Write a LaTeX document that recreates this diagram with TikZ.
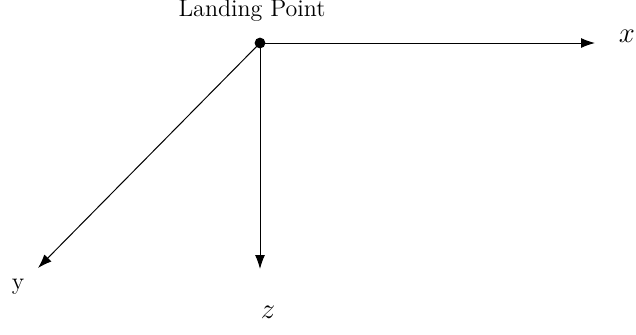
\documentclass[tikz,border=0pt]{standalone}
\usetikzlibrary{arrows.meta}
\begin{document}
\begin{tikzpicture}[x=0.5pt,y=-0.5pt,
  axis/.style={-{Latex[length=7pt,width=5pt]},line width=0.5pt}]
\useasboundingbox (0,0) rectangle (636,334);
\coordinate (o) at (260,43);
\fill (o) circle (2.7pt);
\coordinate (xe) at (595,43);
\coordinate (ye) at (38,268);
\coordinate (ze) at (260,269);
\draw[axis] (o) -- (xe);
\draw[axis] (o) -- (ye);
\draw[axis] (o) -- (ze);
\node (lp) at (252,11) {\large Landing Point};
\node (xl) at (627,36) {\Large$x$};
\node (yl) at (18,287) {\large y};
\node (zl) at (268,312) {\Large$z$};
\end{tikzpicture}
\end{document}
